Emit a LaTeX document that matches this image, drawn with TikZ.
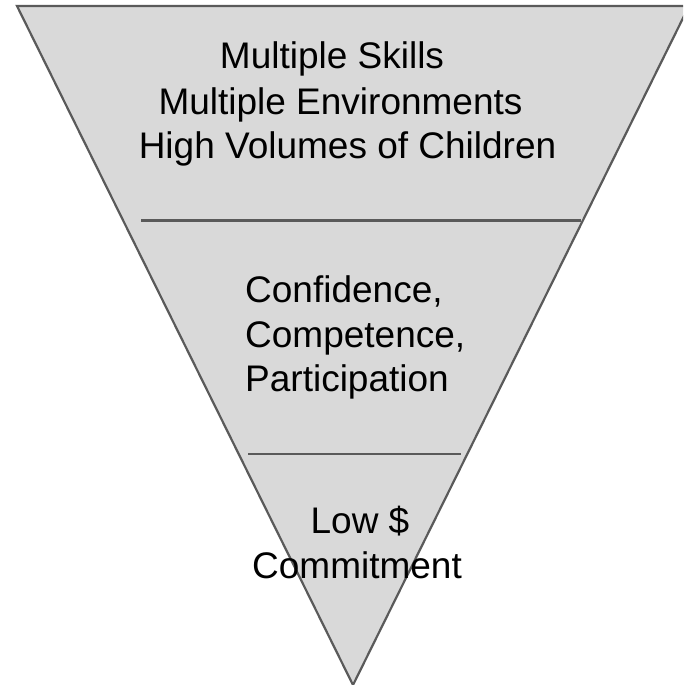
\documentclass[tikz,border=0pt]{standalone}
\usepackage{fontspec}
\setmainfont{Liberation Sans}

\definecolor{funnelfill}{HTML}{D9D9D9}
\definecolor{funneledge}{HTML}{5A5A5A}

\tikzset{
    tier/.style={anchor=base, inner sep=0pt, font=\fontsize{37}{44.5}\selectfont},
    tierleft/.style={tier, anchor=base west},
    divider/.style={draw=funneledge, line width=2.2pt},
}

\begin{document}
\begin{tikzpicture}[x=1pt,y=-1pt]

\useasboundingbox (0,0) rectangle (683,685);

\begin{scope}
    \clip (0,0) rectangle (683,685);
    \filldraw[fill=funnelfill, draw=funneledge, line width=2.2pt] (17,6) -- (689,6) -- (353,685) -- cycle;
\end{scope}

\coordinate (topL) at (141,220.5);
\coordinate (topR) at (581,220.5);
\coordinate (midL) at (248,454);
\coordinate (midR) at (461,454);
\draw[divider] (topL) -- (topR);
\draw[divider] (midL) -- (midR);

\node[tier] (skills) at (332,69) {Multiple Skills};
\node[tier] (environments) at (340.5,114) {Multiple Environments};
\node[tier] (children) at (347.5,158) {High Volumes of Children};

\node[tierleft] (confidence) at (245,302) {Confidence,};
\node[tierleft] (competence) at (245,347) {Competence,};
\node[tierleft] (participation) at (245,391) {Participation};

\node[tier] (low) at (360,533) {Low \$};
\node[tier] (commitment) at (357,578) {Commitment};

\end{tikzpicture}
\end{document}
